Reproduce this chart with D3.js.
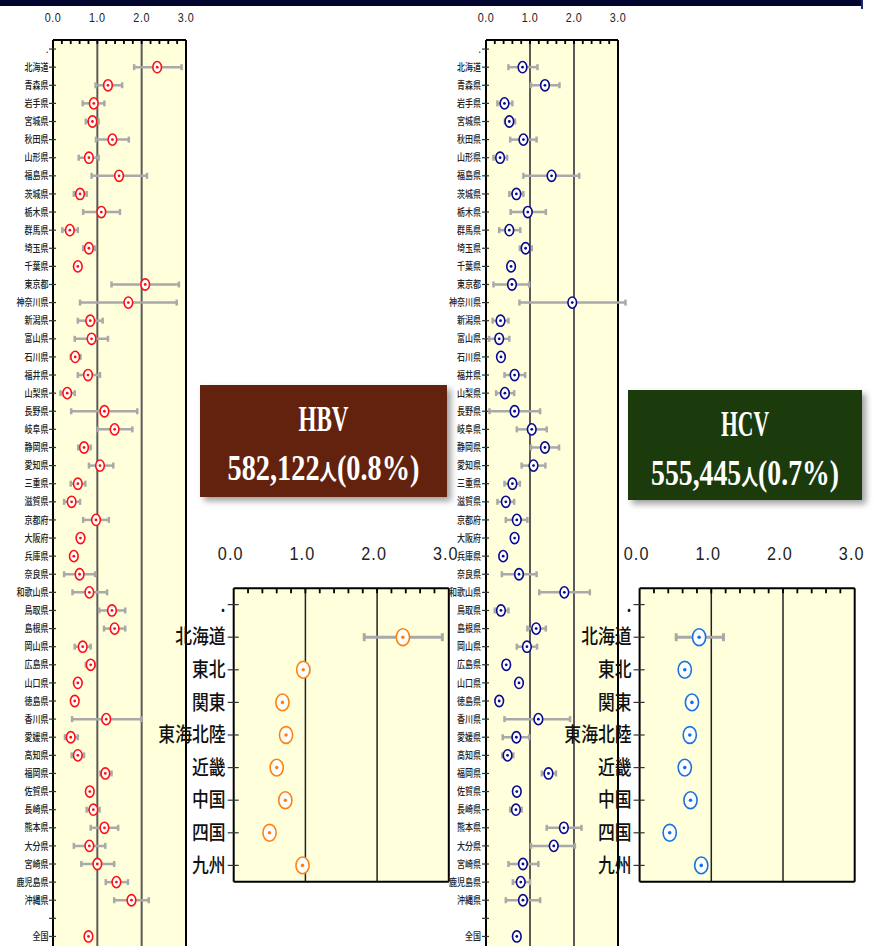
<!DOCTYPE html>
<html>
<head>
<meta charset="utf-8">
<script src="https://cdnjs.cloudflare.com/ajax/libs/d3/7.8.5/d3.min.js"></script>
<style>
  html, body { margin: 0; padding: 0; background: #ffffff; }
  svg { display: block; }
</style>
</head>
<body>
<svg id="chart" width="877" height="946"></svg>
<script>
// Prefecture names (north to south) and the national total
const prefectures = ["北海道","青森県","岩手県","宮城県","秋田県","山形県","福島県","茨城県","栃木県","群馬県",
  "埼玉県","千葉県","東京都","神奈川県","新潟県","富山県","石川県","福井県","山梨県","長野県",
  "岐阜県","静岡県","愛知県","三重県","滋賀県","京都府","大阪府","兵庫県","奈良県","和歌山県",
  "鳥取県","島根県","岡山県","広島県","山口県","徳島県","香川県","愛媛県","高知県","福岡県",
  "佐賀県","長崎県","熊本県","大分県","宮崎県","鹿児島県","沖縄県"];
const nationalLabel = "全国";

// HBV carrier rate (%) by prefecture with 95% interval (null = interval hidden by the marker)
const hbvRate  = [2.35,1.24,0.92,0.89,1.34,0.81,1.49,0.61,1.09,0.38, 0.81,0.56,2.08,1.70,0.84,0.87,0.50,0.79,0.32,1.16,
                  1.39,0.70,1.06,0.56,0.42,0.97,0.62,0.47,0.60,0.82, 1.33,1.39,0.67,0.85,0.56,0.49,1.20,0.40,0.56,1.18,
                  0.83,0.91,1.16,0.82,1.00,1.43,1.77];
const hbvLower = [1.83,0.96,0.67,0.74,0.97,0.58,0.87,0.47,0.68,0.21, 0.68,null,1.32,0.61,0.56,0.49,0.40,0.56,0.17,0.41,
                  1.01,0.57,0.81,0.40,0.25,0.68,null,null,0.25,0.44, 1.04,1.15,0.49,0.74,null,null,0.43,0.27,0.42,1.07,
                  null,0.76,0.85,0.47,0.64,1.19,1.38];
const hbvUpper = [2.90,1.56,1.16,1.03,1.71,1.03,2.12,0.76,1.51,0.56, 0.95,null,2.84,2.79,1.12,1.24,0.62,1.06,0.49,1.90,
                  1.79,0.85,1.36,0.73,0.61,1.26,null,null,0.95,1.22, 1.63,1.63,0.85,0.94,null,null,1.99,0.56,0.70,1.32,
                  null,1.05,1.47,1.18,1.38,1.69,2.16];
const hbvNational = 0.8;

// HCV carrier rate (%) by prefecture with 95% interval
const hcvRate  = [0.83,1.34,0.42,0.53,0.85,0.32,1.49,0.69,0.95,0.53, 0.90,0.57,0.59,1.96,0.33,0.30,0.34,0.65,0.43,0.65,
                  1.04,1.34,1.08,0.60,0.45,0.70,0.65,0.39,0.75,1.78, 0.34,1.14,0.93,0.46,0.75,0.30,1.19,0.69,0.49,1.42,
                  0.70,0.68,1.77,1.54,0.84,0.79,0.84];
const hcvLower = [0.51,1.02,0.26,0.43,0.55,0.17,0.85,0.53,0.56,0.30, 0.77,null,0.17,0.76,0.15,0.07,null,0.42,0.23,0.08,
                  0.70,1.02,0.81,0.42,0.26,0.45,null,null,0.36,1.21, 0.20,0.94,0.70,null,null,null,0.42,0.38,0.37,1.27,
                  null,0.55,1.38,1.02,0.51,0.61,0.45];
const hcvUpper = [1.17,1.67,0.60,0.66,1.15,0.48,2.12,0.85,1.36,0.78, 1.04,null,0.98,3.17,0.51,0.53,null,0.89,0.64,1.23,
                  1.38,1.66,1.35,0.77,0.64,0.94,null,null,1.15,2.36, 0.51,1.36,1.16,null,null,null,1.91,0.98,0.62,1.59,
                  null,0.81,2.17,2.02,1.19,1.00,1.23];
const hcvNational = 0.7;

// Regional blocks
const regions = ["北海道","東北","関東","東海北陸","近畿","中国","四国","九州"];
const hbvRegionRate  = [2.36,0.97,0.68,0.73,0.60,0.72,0.50,0.96];
const hbvRegionLower = [1.82,0.91,null,null,null,null,null,null];
const hbvRegionUpper = [2.91,1.05,null,null,null,null,null,null];
const hcvRegionRate  = [0.83,0.63,0.73,0.70,0.63,0.71,0.42,0.86];
const hcvRegionLower = [0.51,null,null,null,null,null,null,null];
const hcvRegionUpper = [1.17,null,null,null,null,null,null,null];

// Axis ticks
const majorTicks = [0, 1, 2, 3];
const tickLabels = ["0.0", "1.0", "2.0", "3.0"];
const gridValues = [1, 2];

// Totals shown in the title boxes
const hbvTitle = "HBV", hbvCount = "582,122", hbvPct = "(0.8%)";
const hcvTitle = "HCV", hcvCount = "555,445", hcvPct = "(0.7%)";

const svg = d3.select("#chart");
const defs = svg.append("defs");
const shadow = defs.append("filter").attr("id", "boxShadow")
  .attr("x", "-10%").attr("y", "-10%").attr("width", "130%").attr("height", "130%");
shadow.append("feDropShadow").attr("dx", 4).attr("dy", 4).attr("stdDeviation", 3)
  .attr("flood-color", "#777").attr("flood-opacity", 0.7);

// Dark band along the top edge
svg.append("rect").attr("x", 0).attr("y", 0).attr("width", 863).attr("height", 6).attr("fill", "#02062e");
svg.append("rect").attr("x", 861).attr("y", 0).attr("width", 2).attr("height", 9).attr("fill", "#1a2a6a");

function drawPanel(cfg) {
  const g = svg.append("g");
  const x = d3.scaleLinear().domain([0, 3]).range([cfg.x0, cfg.x1]);
  const y = d3.scalePoint().domain(cfg.categories).range([cfg.y0, cfg.y1]).padding(0.5);

  // plot background
  g.append("rect").attr("x", cfg.x0).attr("y", cfg.y0)
    .attr("width", cfg.x1 - cfg.x0).attr("height", cfg.frameBottom - cfg.y0)
    .attr("fill", "#ffffdc");

  // vertical reference lines
  g.selectAll("line.grid").data(gridValues).join("line").attr("class", "grid")
    .attr("x1", d => x(d)).attr("x2", d => x(d))
    .attr("y1", cfg.y0).attr("y2", cfg.frameBottom)
    .attr("stroke", cfg.gridColor).attr("stroke-width", cfg.gridWidth);

  // frame: top, left axis, right edge, bottom
  const frame = g.append("g").attr("stroke", "#000").attr("stroke-width", cfg.frameWidth).attr("fill", "none");
  frame.append("line").attr("x1", cfg.x0).attr("x2", cfg.x1).attr("y1", cfg.y0).attr("y2", cfg.y0);
  frame.append("line").attr("x1", cfg.x0).attr("x2", cfg.x0).attr("y1", cfg.y0).attr("y2", cfg.frameBottom);
  frame.append("line").attr("x1", cfg.x1).attr("x2", cfg.x1).attr("y1", cfg.y0).attr("y2", cfg.frameBottom);
  frame.append("line").attr("x1", cfg.x0).attr("x2", cfg.x1).attr("y1", cfg.frameBottom).attr("y2", cfg.frameBottom);

  // minor ticks hanging from the top edge, every 0.2
  const minor = d3.range(1, 15).map(i => i * 0.2);
  g.selectAll("line.minor").data(minor).join("line").attr("class", "minor")
    .attr("x1", d => x(d)).attr("x2", d => x(d))
    .attr("y1", cfg.y0).attr("y2", cfg.y0 + cfg.minorLen)
    .attr("stroke", "#000").attr("stroke-width", cfg.frameWidth * 0.9);

  // value labels above the plot
  g.selectAll("text.xlab").data(majorTicks).join("text").attr("class", "xlab")
    .attr("transform", d => `translate(${x(d) + cfg.xLabelShift},${cfg.xLabelY}) scale(0.9,1)`)
    .attr("text-anchor", "middle")
    .attr("font-family", "'Liberation Sans', Arial, sans-serif")
    .attr("font-size", cfg.xLabelSize).attr("fill", "#222")
    .attr("letter-spacing", cfg.xLabelSpacing)
    .text((d, i) => tickLabels[i]);

  // category ticks on the left axis
  g.selectAll("line.ytick").data(cfg.categories).join("line").attr("class", "ytick")
    .attr("x1", cfg.x0 - cfg.tickOut).attr("x2", cfg.x0 + cfg.tickIn)
    .attr("y1", d => y(d)).attr("y2", d => y(d))
    .attr("stroke", "#333").attr("stroke-width", 1.2);

  // category labels
  g.selectAll("text.ylab").data(cfg.categories).join("text").attr("class", "ylab")
    .attr("transform", d => `translate(${cfg.labelRight},${y(d)}) scale(${cfg.labelScale},1)`)
    .attr("dy", "0.36em").attr("text-anchor", "end")
    .attr("font-family", "'Noto Sans CJK JP', 'Noto Sans', sans-serif")
    .attr("font-weight", cfg.labelWeight)
    .attr("font-size", cfg.labelSize).attr("fill", cfg.labelColor)
    .text(d => d);

  // interval bars
  const bars = cfg.points.filter(p => p.lo != null && p.hi != null);
  const eb = g.append("g").attr("stroke", "#a9a9a9").attr("stroke-width", cfg.barWidth);
  eb.selectAll("line.bar").data(bars).join("line").attr("class", "bar")
    .attr("x1", d => x(d.lo)).attr("x2", d => x(d.hi))
    .attr("y1", d => y(d.cat)).attr("y2", d => y(d.cat));
  eb.selectAll("line.capL").data(bars).join("line").attr("class", "capL")
    .attr("x1", d => x(d.lo)).attr("x2", d => x(d.lo))
    .attr("y1", d => y(d.cat) - cfg.capHalf).attr("y2", d => y(d.cat) + cfg.capHalf);
  eb.selectAll("line.capR").data(bars).join("line").attr("class", "capR")
    .attr("x1", d => x(d.hi)).attr("x2", d => x(d.hi))
    .attr("y1", d => y(d.cat) - cfg.capHalf).attr("y2", d => y(d.cat) + cfg.capHalf);

  // ring markers with centre dot
  g.selectAll("ellipse.ring").data(cfg.points).join("ellipse").attr("class", "ring")
    .attr("cx", d => x(d.v)).attr("cy", d => y(d.cat))
    .attr("rx", cfg.rx).attr("ry", cfg.ry)
    .attr("fill", "#ffffff").attr("stroke", cfg.color).attr("stroke-width", cfg.ringWidth);
  g.selectAll("circle.dot").data(cfg.points).join("circle").attr("class", "dot")
    .attr("cx", d => x(d.v)).attr("cy", d => y(d.cat))
    .attr("r", cfg.dotR).attr("fill", cfg.color);
}

// category list for prefecture panels: a leading "." row and a blank spacer before the total
const prefCategories = ["."].concat(prefectures, [""], [nationalLabel]);
function prefPoints(rate, lo, hi, national) {
  const pts = prefectures.map((p, i) => ({ cat: p, v: rate[i], lo: lo[i], hi: hi[i] }));
  pts.push({ cat: nationalLabel, v: national, lo: null, hi: null });
  return pts;
}
function regionPoints(rate, lo, hi) {
  return regions.map((r, i) => ({ cat: r, v: rate[i], lo: lo[i], hi: hi[i] }));
}

const prefStyle = {
  categories: prefCategories, y0: 40, y1: 945.5, frameBottom: 975,
  gridColor: "#5a5a5a", gridWidth: 2, frameWidth: 2, minorLen: 4,
  xLabelY: 21.5, xLabelSize: 12, xLabelSpacing: 0.6, xLabelShift: 0,
  tickOut: 4, tickIn: 3,
  labelScale: 0.8, labelSize: 10, labelWeight: 500, labelColor: "#222",
  barWidth: 2.5, capHalf: 3, rx: 4.3, ry: 5.6, ringWidth: 1.6, dotR: 1.4
};
const regionStyle = {
  categories: ["."].concat(regions), y0: 588.3, y1: 881.7, frameBottom: 881.7,
  gridColor: "#222", gridWidth: 1.5, frameWidth: 2, minorLen: 5,
  xLabelY: 560, xLabelSize: 18, xLabelSpacing: 1.2, xLabelShift: -3,
  tickOut: 6, tickIn: 5,
  labelScale: 0.84, labelSize: 20, labelWeight: 500, labelColor: "#111",
  barWidth: 3, capHalf: 4, rx: 6.6, ry: 8.4, ringWidth: 1.6, dotR: 1.8
};

// HBV by prefecture
drawPanel(Object.assign({}, prefStyle, {
  x0: 53, x1: 186, labelRight: 48.5, color: "#ff1010",
  points: prefPoints(hbvRate, hbvLower, hbvUpper, hbvNational)
}));
// HCV by prefecture
drawPanel(Object.assign({}, prefStyle, {
  x0: 486, x1: 618, labelRight: 481, color: "#0a0a8c",
  points: prefPoints(hcvRate, hcvLower, hcvUpper, hcvNational)
}));
// HBV by region
drawPanel(Object.assign({}, regionStyle, {
  x0: 233.7, x1: 448.8, labelRight: 225.5, color: "#ff8210",
  points: regionPoints(hbvRegionRate, hbvRegionLower, hbvRegionUpper)
}));
// HCV by region
drawPanel(Object.assign({}, regionStyle, {
  x0: 639.6, x1: 854.7, labelRight: 631.5, color: "#1a72e0",
  points: regionPoints(hcvRegionRate, hcvRegionLower, hcvRegionUpper)
}));

// Title boxes with carrier totals
function titleBox(bx, by, bw, bh, fill, title, count, pct, titleW, lineW) {
  const g = svg.append("g");
  g.append("rect").attr("x", bx).attr("y", by).attr("width", bw).attr("height", bh)
    .attr("fill", fill).attr("filter", "url(#boxShadow)");
  const cx = bx + bw / 2;
  const font = "'Liberation Serif', 'DejaVu Serif', serif";
  const t1 = g.append("text").attr("text-anchor", "middle")
    .attr("font-family", font).attr("font-weight", "bold").attr("font-size", 35)
    .attr("fill", "#fff").text(title);
  const w1 = t1.node().getComputedTextLength();
  t1.attr("transform", `translate(${cx},${by + 46}) scale(${titleW / w1},1)`);
  const t2 = g.append("text").attr("text-anchor", "middle")
    .attr("font-family", font).attr("font-weight", "bold").attr("font-size", 36)
    .attr("fill", "#fff");
  t2.append("tspan").text(count);
  t2.append("tspan").attr("font-size", 22)
    .attr("font-family", "'Noto Sans CJK JP', sans-serif").attr("font-weight", "bold").text("人");
  t2.append("tspan").text(pct);
  const w2 = t2.node().getComputedTextLength();
  t2.attr("transform", `translate(${cx},${by + 95}) scale(${lineW / w2},1)`);
}
titleBox(200, 385, 247, 112, "#63240f", hbvTitle, hbvCount, hbvPct, 50, 192);
titleBox(628, 390, 234, 110, "#1b3a10", hcvTitle, hcvCount, hcvPct, 48, 188);
</script>
</body>
</html>
